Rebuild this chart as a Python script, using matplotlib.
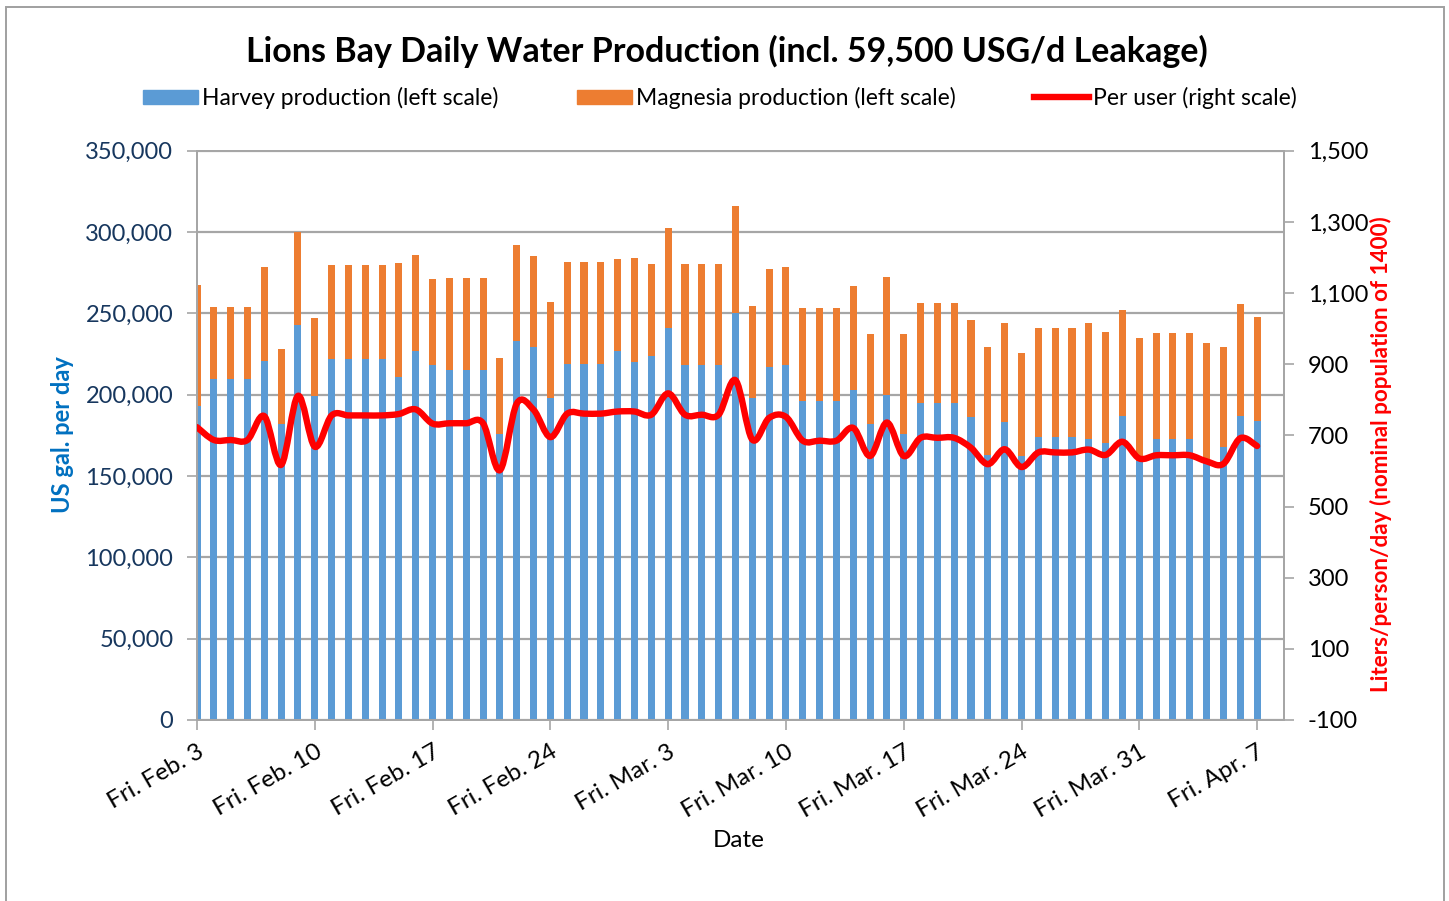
import numpy as np
import pandas as pd
import matplotlib
matplotlib.use("Agg")
import matplotlib.pyplot as plt
from matplotlib.path import Path
from matplotlib.patches import PathPatch, Rectangle
from matplotlib.ticker import FuncFormatter, MultipleLocator

plt.rcParams['font.family'] = ['Lato', 'DejaVu Sans']

# daily values, Fri Feb 3 .. Fri Apr 7 (2017)
dates = pd.date_range("2017-02-03", "2017-04-07", freq="D")

total = [267400, 254100, 254100, 254100, 278800, 228100, 299900, 246900,
         279700, 279700, 279700, 279700, 280900, 285800, 270900, 271500,
         271500, 271500, 222800, 291900, 285400, 257000, 281500, 281500,
         281500, 283600, 283800, 280500, 302400, 280500, 280500, 280500,
         316100, 254300, 277000, 278200, 253500, 253500, 253500, 266800,
         237300, 272100, 237300, 256400, 256400, 256400, 246100, 229100,
         244300, 225900, 241200, 241200, 241200, 243900, 238600, 252100,
         234900, 238000, 238000, 238000, 232000, 229400, 255800, 247800]

harvey = [192900, 209900, 209900, 209900, 221000, 182100, 242900, 199100,
          222000, 222000, 222000, 222000, 211000, 227100, 218100, 215300,
          215300, 215300, 176000, 233100, 229200, 198100, 219100, 219100,
          219100, 227100, 220200, 224000, 241000, 218100, 218100, 218100,
          250000, 198100, 217100, 218100, 196000, 196000, 196000, 203000,
          182100, 199900, 176000, 195000, 195000, 195000, 186200, 162900,
          183400, 162100, 174200, 174200, 174200, 173000, 170100, 187000,
          159400, 173000, 173000, 173000, 160200, 168000, 187000, 184000]

magnesia = [t - h for t, h in zip(total, harvey)]

# liters/person/day
per_user = [723, 687, 687, 687, 754, 617, 811, 668, 756, 756, 756, 756,
            760, 773, 733, 734, 734, 734, 602, 789, 772, 695, 761, 761,
            761, 767, 767, 758, 818, 758, 758, 758, 855, 688, 749, 752,
            685, 685, 685, 721, 642, 736, 642, 693, 693, 693, 665, 619,
            661, 611, 652, 652, 652, 660, 645, 682, 635, 644, 644, 644,
            627, 620, 692, 670]

tick_days = [0, 7, 14, 21, 28, 35, 42, 49, 56, 63]
tick_labels = ["Fri. Feb. 3", "Fri. Feb. 10", "Fri. Feb. 17", "Fri. Feb. 24",
               "Fri. Mar. 3", "Fri. Mar. 10", "Fri. Mar. 17", "Fri. Mar. 24",
               "Fri. Mar. 31", "Fri. Apr. 7"]

BLUE = "#5B9BD5"
ORANGE = "#ED7D31"
RED = "#FF0000"
GRID = "#A6A6A6"

fig = plt.figure(figsize=(14.49, 9.01), dpi=100)
ax = fig.add_axes([197/1449, 1-720/901, (1284-197)/1449, (720-150.7)/901])
ax2 = ax.twinx()

x = np.arange(len(dates))
ax.bar(x, harvey, width=0.42, color=BLUE, zorder=2)
ax.bar(x, magnesia, width=0.42, bottom=harvey, color=ORANGE, zorder=2)

ax.set_xlim(0, 64.6)
ax.set_ylim(0, 350000)
ax.yaxis.set_major_locator(MultipleLocator(50000))
ax.yaxis.set_major_formatter(FuncFormatter(lambda v, p: f"{int(v):,}"))
ax.grid(axis="y", color=GRID, lw=1.6, zorder=0)
ax.set_axisbelow(True)
ax.set_xticks(tick_days)
ax.set_xticklabels(tick_labels, rotation=30, ha="right", rotation_mode="anchor",
                   fontsize=17.5)
ax.tick_params(axis="x", length=7, width=1.2, color=GRID, pad=8)
ax.tick_params(axis="y", length=7, width=1.2, color=GRID, labelsize=17,
               labelcolor="#17375E", pad=10)
ax.set_xlabel("Date", fontsize=17.5)
ax.xaxis.set_label_coords((739-197)/1087, -(830-720)/569.3)
ax.set_ylabel("US gal. per day", fontsize=17, fontweight="bold",
              color="#0070C0")
ax.yaxis.set_label_coords((74-197)/1087, (720-435)/569.3)

# smoothed line (Excel style bezier through the points)
pts = np.column_stack([x, per_user]).astype(float)
verts = [pts[0]]
codes = [Path.MOVETO]
n = len(pts)
for i in range(n - 1):
    p0 = pts[max(i - 1, 0)]
    p1 = pts[i]
    p2 = pts[i + 1]
    p3 = pts[min(i + 2, n - 1)]
    verts += [p1 + (p2 - p0) / 6., p2 - (p3 - p1) / 6., p2]
    codes += [Path.CURVE4] * 3
ax2.add_patch(PathPatch(Path(verts, codes), fc="none", ec=RED, lw=4.6,
                        capstyle="round", joinstyle="round", zorder=3))
ax2.set_ylim(-100, 1500)
ax2.set_yticks(np.arange(-100, 1501, 200))
ax2.yaxis.set_major_formatter(FuncFormatter(lambda v, p: f"{int(v):,}"))
ax2.tick_params(axis="y", length=7, width=1.2, color=GRID, labelsize=17, pad=10)
ax2.set_ylabel("Liters/person/day (nominal population of 1400)", fontsize=16.2,
               fontweight="bold", color=RED)
ax2.yaxis.set_label_coords((1370-197)/1087, (720-454)/569.3)

for a in (ax, ax2):
    for s in a.spines.values():
        s.set_color(GRID)
        s.set_linewidth(1.4)

# legend
h1 = Rectangle((0, 0), 1, 1, color=BLUE)
h2 = Rectangle((0, 0), 1, 1, color=ORANGE)
h3 = plt.Line2D([], [], color=RED, lw=4.6)
fig.legend([h1, h2, h3], ["Harvey production (left scale)",
                          "Magnesia production (left scale)",
                          "Per user (right scale)"],
           ncol=3, loc="center", bbox_to_anchor=(720/1449, 1-98/901),
           frameon=False, fontsize=16.5, handlelength=2.4, handleheight=0.6,
           handletextpad=0.2, columnspacing=3.4)

fig.text(727/1449, 1-51/901,
         "Lions Bay Daily Water Production (incl. 59,500 USG/d Leakage)",
         ha="center", va="center", fontsize=24.5, fontweight="bold")

# chart border
fig.patches.append(Rectangle((6/1449, -0.01), (1444-6)/1449, 1.01-7/901,
                             transform=fig.transFigure, fill=False,
                             ec="#A0A0A0", lw=1.4))

fig.savefig("out.png", dpi=100)
